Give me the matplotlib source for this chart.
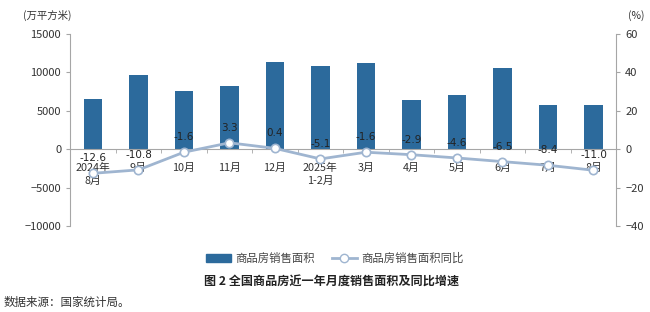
import numpy as np
import matplotlib
matplotlib.use("Agg")
import matplotlib.pyplot as plt
from matplotlib.lines import Line2D
from matplotlib.patches import Patch

plt.rcParams['font.family'] = ['Noto Sans CJK SC', 'DejaVu Sans']

months = ['2024年\n8月', '9月', '10月', '11月', '12月', '2025年\n1-2月',
          '3月', '4月', '5月', '6月', '7月', '8月']
area = [6500, 9700, 7600, 8250, 11300, 10800, 11200, 6450, 7100, 10600, 5750, 5750]
yoy = [-12.6, -10.8, -1.6, 3.3, 0.4, -5.1, -1.6, -2.9, -4.6, -6.5, -8.4, -11.0]

bar_color = '#2c6a9c'
line_color = '#9fb5d0'
axis_color = '#a6a6a6'

fig = plt.figure(figsize=(6.5, 3.12), dpi=100)
ax = fig.add_axes([0.108, 0.276, 0.84, 0.615])
ax2 = ax.twinx()

x = np.arange(len(months))
ax.bar(x, area, width=0.4, color=bar_color, zorder=2)
ax.set_ylim(-10000, 15000)
ax.set_yticks([-10000, -5000, 0, 5000, 10000, 15000])
ax.set_xlim(-0.5, len(months) - 0.5)

ax2.plot(x, yoy, color=line_color, lw=2, marker='o', ms=6,
         mfc='white', mec=line_color, mew=1.2, zorder=3)
ax2.set_ylim(-40, 60)
ax2.set_yticks([-40, -20, 0, 20, 40, 60])
for xi, v in zip(x, yoy):
    ax2.text(xi, v + 7.8, f'{v:.1f}', ha='center', va='center',
             fontsize=7.5, color='#222222', zorder=4,
             family=['DejaVu Sans'])

# axes styling
for a in (ax, ax2):
    a.spines['top'].set_visible(False)
    a.spines['left'].set_color(axis_color)
    a.spines['right'].set_color(axis_color)
    a.tick_params(axis='y', labelsize=8, colors=axis_color, labelcolor='#333333',
                  length=3, direction='out')
ax2.spines['bottom'].set_visible(False)
ax.spines['right'].set_visible(False)
ax2.spines['left'].set_visible(False)
ax.spines['bottom'].set_position(('data', 0))
ax.spines['bottom'].set_color(axis_color)
ax.set_xticks(x)
ax.set_xticklabels(months, fontsize=7.8, color='#333333', linespacing=1.3)
ax.set_xticks(np.arange(-0.5, len(months)), minor=True)
ax.tick_params(axis='x', which='major', length=0, pad=10)
ax.tick_params(axis='x', which='minor', length=3, color=axis_color, direction='out')

fig.text(0.035, 0.949, '(万平方米)', fontsize=7.5, color='#333333', va='center')
fig.text(0.966, 0.949, '(%)', fontsize=7.5, color='#333333', va='center')

handles = [Patch(color=bar_color),
           Line2D([], [], color=line_color, lw=2, marker='o', ms=6,
                  mfc='white', mec=line_color)]
fig.legend(handles, ['商品房销售面积', '商品房销售面积同比'], loc='center',
           bbox_to_anchor=(0.515, 0.172), ncol=2, frameon=False, fontsize=8.2,
           labelcolor='#444444', handlelength=2.2, columnspacing=1.5,
           handletextpad=0.4)

fig.text(0.51, 0.098, '图 2 全国商品房近一年月度销售面积及同比增速', ha='center',
         va='center', fontsize=8.7, fontweight='bold', color='#222222')
fig.text(0.005, 0.032, '数据来源：国家统计局。', ha='left', va='center',
         fontsize=8.3, color='#333333')

fig.savefig('out.png', dpi=100)
